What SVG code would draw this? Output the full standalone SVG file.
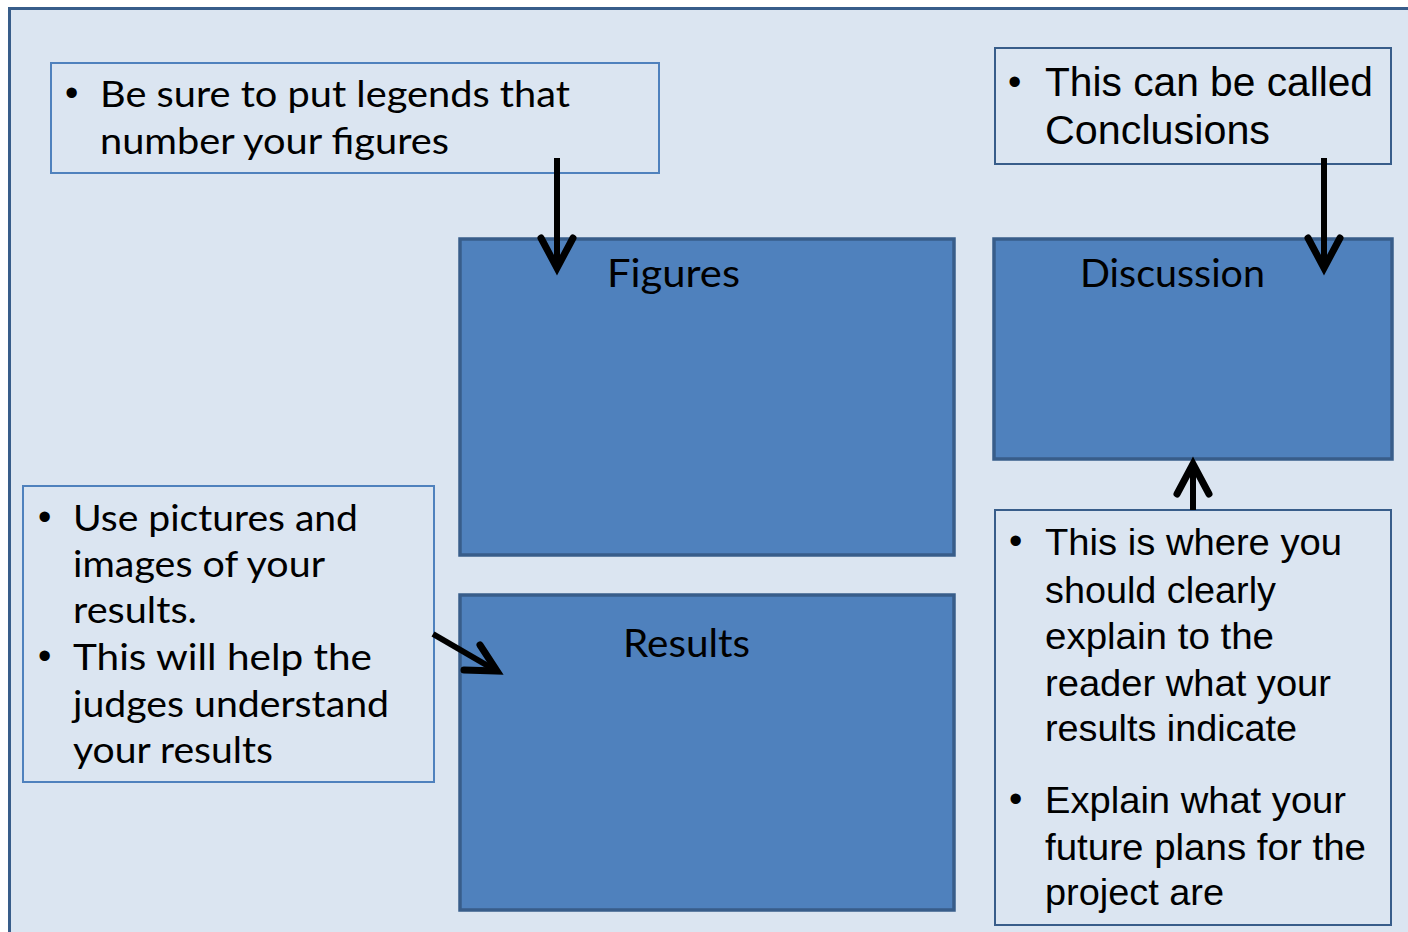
<svg xmlns="http://www.w3.org/2000/svg" width="1408" height="932" viewBox="0 0 1408 932">
<defs>
<style>
.frame{fill:#dbe5f1;stroke:#385d8a;stroke-width:3}
.note{fill:#dbe5f1;stroke:#4f81bd;stroke-width:2}
.note2{fill:#dbe5f1;stroke:#385d8a;stroke-width:2}
.block{fill:#4f81bd;stroke:#385d8a;stroke-width:3.5}
.t1{font-family:Lato,"DejaVu Sans",sans-serif;font-size:36px;fill:#000}
.t2{font-family:"Liberation Sans",Arial,sans-serif;font-size:36px;fill:#000}
.t3{font-family:"Liberation Sans",Arial,sans-serif;font-size:40px;fill:#000}
.bul{font-family:"Liberation Sans",Arial,sans-serif;font-size:38px;fill:#000}
.title{font-family:Lato,"DejaVu Sans",sans-serif;font-size:38px;fill:#000}
.arr{fill:none;stroke:#000;stroke-width:7;stroke-linecap:round;stroke-linejoin:miter}
.shaft{fill:none;stroke:#000;stroke-width:6}
</style>
</defs>
<rect x="0" y="0" width="1408" height="932" fill="#ffffff"/>
<rect class="frame" x="9.5" y="8.5" width="1420" height="950"/>

<g id="legend-note">
<rect class="note" x="51" y="63" width="608" height="110"/>
<text class="bul" x="65" y="106">•</text>
<text class="t1" x="100" y="107" textLength="470" lengthAdjust="spacingAndGlyphs">Be sure to put legends that</text>
<text class="t1" x="100" y="154" textLength="349" lengthAdjust="spacingAndGlyphs">number your figures</text>
</g>

<g id="conclusions-note">
<rect class="note2" x="995" y="48" width="396" height="116"/>
<text class="bul" x="1008" y="95">•</text>
<text class="t3" x="1045" y="96" textLength="328" lengthAdjust="spacingAndGlyphs">This can be called</text>
<text class="t3" x="1045" y="144" textLength="225" lengthAdjust="spacingAndGlyphs">Conclusions</text>
</g>

<g id="figures">
<rect class="block" x="460" y="239" width="494" height="316"/>
<text class="title" x="607" y="287" textLength="133" lengthAdjust="spacingAndGlyphs">Figures</text>
</g>

<g id="discussion">
<rect class="block" x="994" y="239" width="398" height="220"/>
<text class="title" x="1080" y="287" textLength="185" lengthAdjust="spacingAndGlyphs">Discussion</text>
</g>

<g id="results">
<rect class="block" x="460" y="595" width="494" height="315"/>
<text class="title" x="623" y="657" textLength="127" lengthAdjust="spacingAndGlyphs">Results</text>
</g>

<g id="pictures-note">
<rect class="note" x="23" y="486" width="411" height="296"/>
<text class="bul" x="38" y="530">•</text>
<text class="t1" x="73" y="531" textLength="285" lengthAdjust="spacingAndGlyphs">Use pictures and</text>
<text class="t1" x="73" y="577" textLength="252" lengthAdjust="spacingAndGlyphs">images of your</text>
<text class="t1" x="73" y="623" textLength="124" lengthAdjust="spacingAndGlyphs">results.</text>
<text class="bul" x="38" y="669">•</text>
<text class="t1" x="73" y="670" textLength="299" lengthAdjust="spacingAndGlyphs">This will help the</text>
<text class="t1" x="73" y="717" textLength="316" lengthAdjust="spacingAndGlyphs">judges understand</text>
<text class="t1" x="73" y="763" textLength="200" lengthAdjust="spacingAndGlyphs">your results</text>
</g>

<g id="explain-note">
<rect class="note2" x="995" y="510" width="396" height="415"/>
<text class="bul" x="1009" y="554">•</text>
<text class="t2" x="1045" y="555" textLength="297" lengthAdjust="spacingAndGlyphs">This is where you</text>
<text class="t2" x="1045" y="603" textLength="231" lengthAdjust="spacingAndGlyphs">should clearly</text>
<text class="t2" x="1045" y="649" textLength="229" lengthAdjust="spacingAndGlyphs">explain to the</text>
<text class="t2" x="1045" y="696" textLength="286" lengthAdjust="spacingAndGlyphs">reader what your</text>
<text class="t2" x="1045" y="741" textLength="252" lengthAdjust="spacingAndGlyphs">results indicate</text>
<text class="bul" x="1009" y="812">•</text>
<text class="t2" x="1045" y="813" textLength="301" lengthAdjust="spacingAndGlyphs">Explain what your</text>
<text class="t2" x="1045" y="860" textLength="321" lengthAdjust="spacingAndGlyphs">future plans for the</text>
<text class="t2" x="1045" y="905" textLength="179" lengthAdjust="spacingAndGlyphs">project are</text>
</g>

<g id="connectors">
<line class="shaft" x1="557" y1="158" x2="557" y2="266"/>
<polyline class="arr" points="541,238 557,268 573,238"/>
<line class="shaft" x1="1324" y1="158" x2="1324" y2="266"/>
<polyline class="arr" points="1308,238 1324,268 1340,238"/>
<line class="shaft" x1="1193" y1="510" x2="1193" y2="466"/>
<polyline class="arr" points="1177,494 1193,464 1209,494"/>
<line class="shaft" x1="433" y1="634" x2="495" y2="670"/>
<polyline class="arr" points="480,645 497,671 464,670"/>
</g>
</svg>
